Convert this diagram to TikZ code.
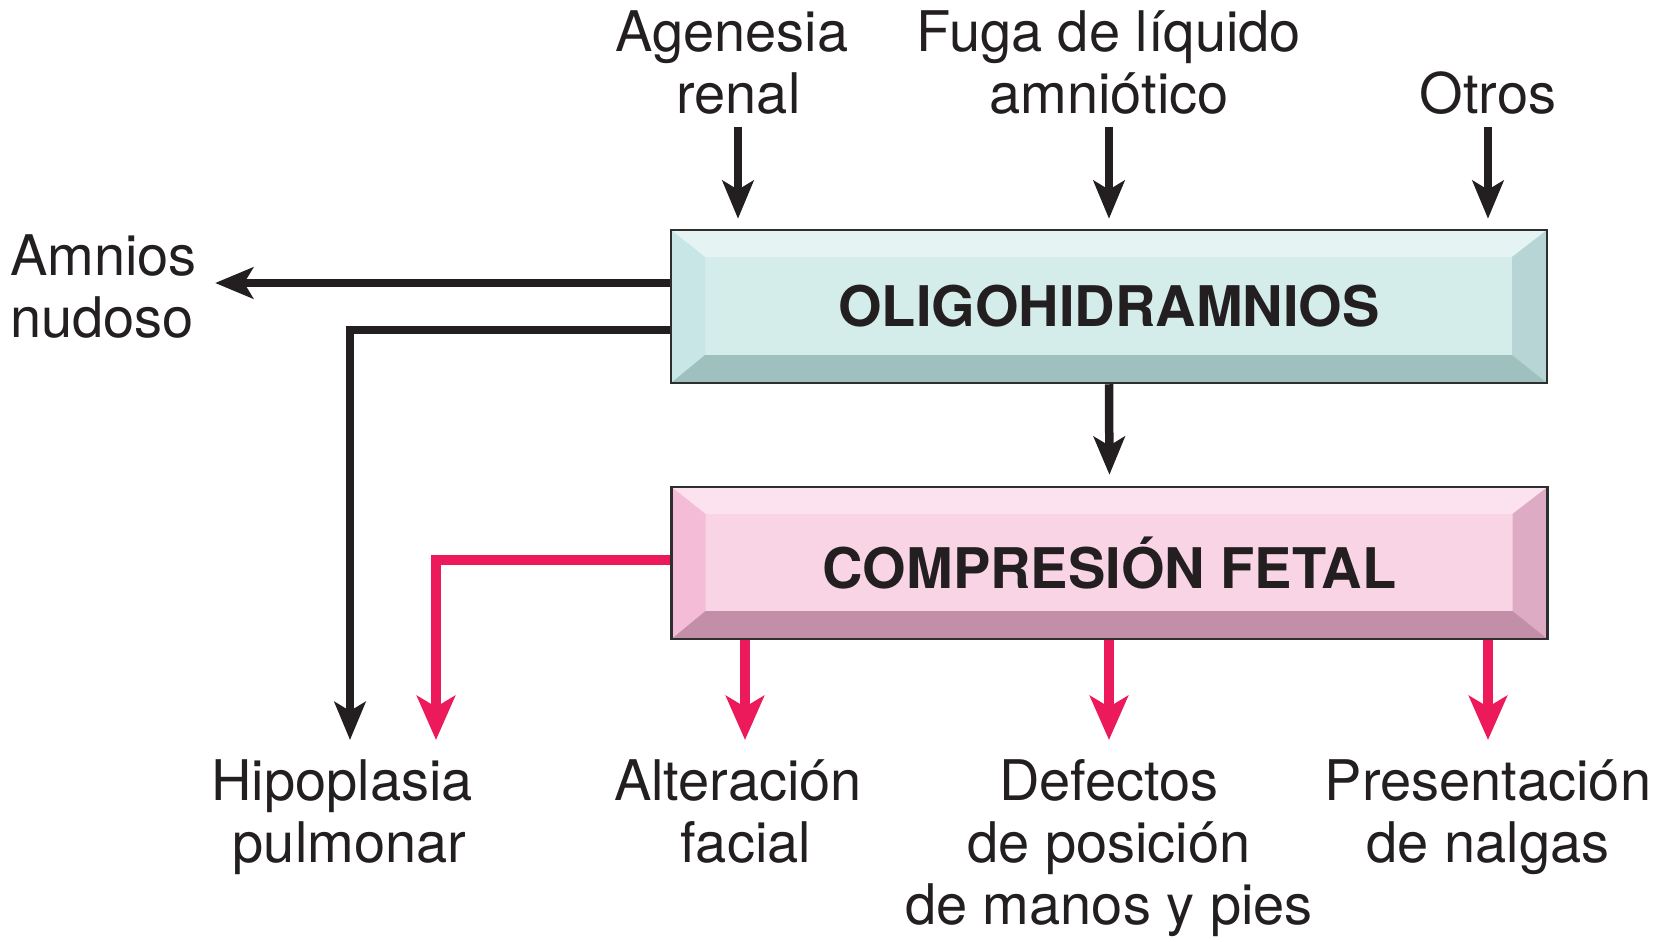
\documentclass[tikz,border=0pt]{standalone}
\usepackage{fontspec}
\setmainfont{TeX Gyre Heros}
\usetikzlibrary{arrows.meta,calc}
\definecolor{ink}{HTML}{231F20}
\definecolor{redl}{HTML}{EC1A5A}
\definecolor{boxline}{HTML}{2E2E2E}
\definecolor{gface}{HTML}{D4ECEA}
\definecolor{gtop}{HTML}{E5F4F2}
\definecolor{gleft}{HTML}{C9E6E6}
\definecolor{gright}{HTML}{B7D5D4}
\definecolor{gbot}{HTML}{9EC0BE}
\definecolor{pface}{HTML}{F8D4E5}
\definecolor{ptop}{HTML}{FBE2EE}
\definecolor{pleft}{HTML}{F5BCD7}
\definecolor{pright}{HTML}{DDABC4}
\definecolor{pbot}{HTML}{C38FA8}
\tikzset{
  lbl/.style={inner sep=0pt, align=center, text=ink, font=\fontsize{56}{62}\selectfont},
  blk/.style={draw=ink, line width=8.5pt, -{Stealth[length=38pt,width=31pt,inset=9pt]}},
  redarr/.style={draw=redl, line width=10pt, -{Stealth[length=44pt,width=38pt,inset=11pt]}},
  bevelbox/.style n args={5}{fill=#1, draw=boxline, line width=2.5pt,
    minimum width=876pt, minimum height=153pt, inner sep=0pt,
    font=\bfseries\fontsize{56}{62}\selectfont, text=ink,
    path picture={
      \coordinate (pNW) at (path picture bounding box.north west);
      \coordinate (pNE) at (path picture bounding box.north east);
      \coordinate (pSW) at (path picture bounding box.south west);
      \coordinate (pSE) at (path picture bounding box.south east);
      \fill[#2] (pNW) -- (pNE) -- ([shift={(-35pt,-27pt)}]pNE) -- ([shift={(34pt,-27pt)}]pNW) -- cycle;
      \fill[#3] (pNW) -- (pSW) -- ([shift={(34pt,28pt)}]pSW) -- ([shift={(34pt,-27pt)}]pNW) -- cycle;
      \fill[#4] (pNE) -- (pSE) -- ([shift={(-35pt,28pt)}]pSE) -- ([shift={(-35pt,-27pt)}]pNE) -- cycle;
      \fill[#5] (pSW) -- (pSE) -- ([shift={(-35pt,28pt)}]pSE) -- ([shift={(34pt,28pt)}]pSW) -- cycle;
    }}
}
\begin{document}
\begin{tikzpicture}[x=1pt,y=-1pt]
\useasboundingbox (0,0) rectangle (1658,942);
% boxes
\node[bevelbox={gface}{gtop}{gleft}{gright}{gbot}] (oligo) at (1109,306.5) {OLIGOHIDRAMNIOS};
\node[bevelbox={pface}{ptop}{pleft}{pright}{pbot}, minimum height=152pt] (comp) at (1109.5,563) {COMPRESIÓN FETAL};
% labels
\node[lbl, anchor=north] (agen) at (732,8) {\strut Agenesia\\\strut\hspace*{13pt}renal};
\node[lbl, anchor=north] (fuga) at (1109,8) {\strut Fuga de líquido\\\strut amniótico};
\node[lbl, anchor=north] (otros) at (1488,70) {\strut Otros};
\node[lbl, anchor=north west, align=left] (amnios) at (10,232) {\strut Amnios\\\strut nudoso};
\node[lbl, anchor=north] (hipo) at (342,757) {\strut Hipoplasia\\\strut\hspace*{15pt}pulmonar};
\node[lbl, anchor=north] (alter) at (738,757) {\strut Alteración\\\strut\hspace*{16pt}facial};
\node[lbl, anchor=north] (defect) at (1109,757) {\strut Defectos\\\strut de posición\\\strut de manos y pies};
\node[lbl, anchor=north] (present) at (1488,757) {\strut Presentación\\\strut de nalgas};
% tips for the hooked arrows
\coordinate (hipoB) at (350,740);
\coordinate (hipoR) at (436,740);
% top arrows
\draw[blk, shorten >=10pt] ([shift={(6pt,5pt)}]agen.south) -- ([xshift=6pt]agen.south |- oligo.north);
\draw[blk, shorten >=10pt] ([yshift=5pt]fuga.south) -- (fuga.south |- oligo.north);
\draw[blk, shorten >=10pt] ([yshift=5pt]otros.south) -- (otros.south |- oligo.north);
% left arrows
\draw[blk, shorten >=18pt] ([yshift=23.5pt]oligo.west) -- ([yshift=23.5pt]oligo.west -| amnios.east);
\draw[blk] ([yshift=-23.5pt]oligo.west) -| (hipoB);
% middle
\draw[blk, shorten >=11pt] (oligo.south) -- (comp.north);
% red arrows
\draw[redarr] ([yshift=3pt]comp.west) -| (hipoR);
\draw[redarr, shorten >=17pt] ([xshift=7pt]comp.south -| alter.north) -- ([xshift=7pt]alter.north);
\draw[redarr, shorten >=17pt] (comp.south -| defect.north) -- (defect.north);
\draw[redarr, shorten >=17pt] (comp.south -| present.north) -- (present.north);
\end{tikzpicture}
\end{document}
